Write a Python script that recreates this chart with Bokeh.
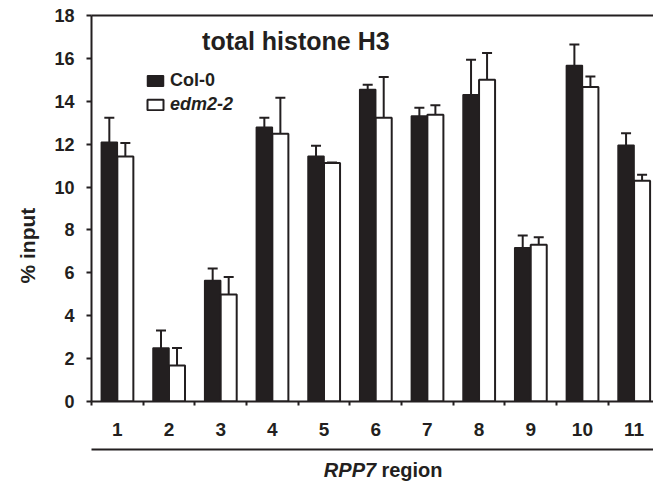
from bokeh.plotting import figure
from bokeh.layouts import column
from bokeh.models import (Range1d, FixedTicker, LinearAxis, Label, Legend, LegendItem,
                          Whisker, TeeHead, ColumnDataSource, Title)
from bokeh.embed import file_html
from bokeh.resources import INLINE

# ---------------- data ----------------
regions = [1, 2, 3, 4, 5, 6, 7, 8, 9, 10, 11]
region_labels = ["1", "2", "3", "4", "5", "6", "7", "8", "9", "10", "11"]
col0 = [12.09, 2.50, 5.64, 12.79, 11.44, 14.55, 13.31, 14.30, 7.17, 15.67, 11.95]
col0_err = [1.14, 0.81, 0.56, 0.44, 0.49, 0.22, 0.39, 1.64, 0.57, 0.98, 0.56]
edm = [11.43, 1.68, 4.99, 12.48, 11.12, 13.23, 13.37, 15.00, 7.31, 14.66, 10.29]
edm_err = [0.62, 0.81, 0.81, 1.68, 0.03, 1.90, 0.45, 1.25, 0.35, 0.50, 0.28]
y_ticks = [0, 2, 4, 6, 8, 10, 12, 14, 16, 18]
series_names = ["Col-0", "edm2-2"]

INK = "#231f20"
FONT = "Liberation Sans"
BAR_W = 0.31
OFF = 0.155

src_c = ColumnDataSource(dict(
    x=[r - OFF for r in regions], top=col0,
    lower=col0, upper=[v + e for v, e in zip(col0, col0_err)]))
src_e = ColumnDataSource(dict(
    x=[r + OFF for r in regions], top=edm,
    lower=edm, upper=[v + e for v, e in zip(edm, edm_err)]))

p = figure(width=653, height=448,
           x_range=Range1d(0.5, 11.376), y_range=Range1d(0, 18),
           output_backend="svg", toolbar_location=None,
           x_axis_type=None, y_axis_type=None,
           min_border_left=91, min_border_right=0,
           min_border_top=15, min_border_bottom=47)
p.xgrid.visible = False
p.ygrid.visible = False
p.outline_line_color = None
p.background_fill_color = "white"
p.border_fill_color = "white"

r1 = p.vbar(x="x", top="top", width=BAR_W, bottom=0, source=src_c,
            fill_color=INK, line_color=INK, line_width=1.5)
r2 = p.vbar(x="x", top="top", width=BAR_W, bottom=0, source=src_e,
            fill_color="white", line_color=INK, line_width=2)

for s in (src_c, src_e):
    w = Whisker(base="x", upper="upper", lower="lower", source=s,
                upper_head=TeeHead(size=10, line_width=2, line_color=INK),
                lower_head=None, line_width=2, line_color=INK)
    p.add_layout(w)

# y axis
yax = LinearAxis(ticker=FixedTicker(ticks=y_ticks),
                 axis_line_width=2, axis_line_color=INK,
                 major_tick_line_width=2, major_tick_line_color=INK,
                 major_tick_out=5, major_tick_in=0,
                 minor_tick_line_color=None,
                 major_label_standoff=12,
                 major_label_text_font=FONT, major_label_text_font_style="bold",
                 major_label_text_font_size="18px", major_label_text_color=INK)
p.add_layout(yax, "left")

# y axis title
p.add_layout(Title(text="% input", align="left", offset=118, standoff=26,
                   text_font=FONT, text_font_style="bold", text_font_size="21px",
                   text_color=INK), "left")

# top frame line
top_ax = LinearAxis(ticker=FixedTicker(ticks=[]), axis_line_width=2, axis_line_color=INK,
                    major_tick_out=0, major_tick_in=0, minor_tick_out=0, minor_tick_in=0,
                    major_label_text_font_size="0px")
p.add_layout(top_ax, "above")

# x axis with category labels
boundaries = [r - 0.5 for r in regions] + [regions[-1] + 0.5]
xax = LinearAxis(ticker=FixedTicker(ticks=regions, minor_ticks=boundaries),
                 major_label_overrides={r: lbl for r, lbl in zip(regions, region_labels)},
                 axis_line_width=2, axis_line_color=INK,
                 major_tick_line_color=None, major_tick_out=4, major_tick_in=0,
                 minor_tick_line_color=INK, minor_tick_line_width=2,
                 minor_tick_out=4, minor_tick_in=0,
                 major_label_standoff=17,
                 major_label_text_font=FONT, major_label_text_font_style="bold",
                 major_label_text_font_size="19px", major_label_text_color=INK)
p.add_layout(xax, "below")

# chart title
p.add_layout(Label(x=2.64, y=16.82, text="total histone H3", text_font=FONT,
                   text_font_style="bold", text_font_size="25px",
                   text_color=INK, text_align="left", text_baseline="alphabetic"))

# legends
for name, rend, style, loc in ((series_names[0], r1, "bold", (54, 310)),
                               (series_names[1], r2, "bold italic", (54, 286))):
    leg = Legend(items=[LegendItem(label=name, renderers=[rend])], location=loc,
                 label_text_font=FONT, label_text_font_style=style,
                 label_text_font_size="18px", label_text_color=INK,
                 glyph_width=20, glyph_height=13, label_height=13, label_standoff=5,
                 padding=0, margin=0, spacing=0,
                 border_line_color=None, background_fill_alpha=0)
    p.add_layout(leg)

# ---- bottom strip: separator line + x axis title ----
p2 = figure(width=653, height=37, x_range=Range1d(0, 566), y_range=Range1d(0, 36),
            output_backend="svg", toolbar_location=None,
            x_axis_type=None, y_axis_type=None,
            min_border_left=87, min_border_right=0, min_border_top=1, min_border_bottom=0)
p2.xgrid.visible = False
p2.ygrid.visible = False
p2.outline_line_color = None
p2.background_fill_color = "white"
p2.border_fill_color = "white"
sep_ax = LinearAxis(ticker=FixedTicker(ticks=[]), axis_line_width=2, axis_line_color=INK,
                    major_tick_out=0, major_tick_in=0, minor_tick_out=0, minor_tick_in=0,
                    major_label_text_font_size="0px")
p2.add_layout(sep_ax, "above")
p2.add_layout(Label(x=234, y=15.3, text="RPP7", text_font=FONT,
                    text_font_style="bold italic", text_font_size="20px",
                    text_color=INK, text_align="left", text_baseline="alphabetic"))
p2.add_layout(Label(x=292, y=15.3, text="region", text_font=FONT,
                    text_font_style="bold", text_font_size="20px",
                    text_color=INK, text_align="left", text_baseline="alphabetic"))

layout = column(p, p2, spacing=0)
open("out.html", "w").write(file_html(layout, INLINE))
